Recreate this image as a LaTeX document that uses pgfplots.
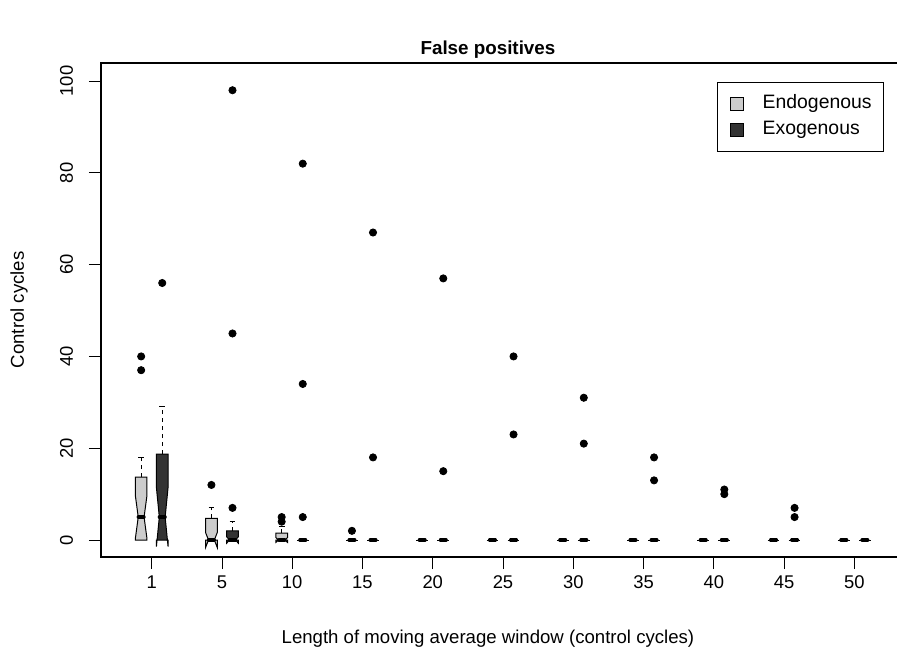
\documentclass[border=0pt]{standalone}
\usepackage{pgfplots}
\pgfplotsset{compat=1.18}
\usepackage{fontspec}
\setmainfont{Liberation Sans}
\definecolor{endo}{HTML}{CCCCCC}
\definecolor{exo}{HTML}{333333}
\begin{document}
\begin{tikzpicture}
\begin{axis}[name=ax, scale only axis, width=398pt, height=247.15pt,
  xmin=0.2784, xmax=11.608, ymin=-3.7, ymax=104,
  clip=false, axis line style={draw=none},
  tick align=outside, major tick length=6pt,
  tick style={black, line width=0.4pt},
  xtick={1,...,11}, xticklabels={1,5,10,15,20,25,30,35,40,45,50},
  ytick={0,20,...,100}, xtick pos=left, ytick pos=left,
  font=\fontsize{9.2}{11}\selectfont,
  /pgf/number format/assume math mode=true,
  xticklabel style={anchor=base, yshift=-9.5pt},
  yticklabel style={xshift=-8pt, rotate=90, anchor=base},
  legend entries={Endogenous,Exogenous},
  legend image code/.code={\draw[#1, line width=0.4pt] (0pt,-3.25pt) rectangle (6.5pt,3.25pt);},
  legend style={at={(rel axis cs:0.9837,0.961)}, anchor=north east, draw=black, line width=0.4pt,
    fill=white, inner xsep=6pt, inner ysep=6.5pt, row sep=4pt, font=\fontsize{9.7}{11.6}\selectfont,
    nodes={inner sep=0pt, text height=6.8pt, text depth=2pt},
    /tikz/every odd column/.append style={column sep=9.5pt}, cells={anchor=west}},
]
% notched boxes (legend images first)
\addplot[draw=black, fill=endo, line width=0.5pt] coordinates {(0.767,0)(0.933,0)(0.933,0.28)(0.8915,5)(0.933,9.72)(0.933,13.7)(0.767,13.7)(0.767,9.72)(0.8085,5)(0.767,0.28)} -- cycle;
\addplot[draw=black, fill=exo, line width=0.5pt] coordinates {(1.067,0)(1.233,0)(1.233,-1.45)(1.1915,5)(1.233,11.45)(1.233,18.7)(1.067,18.7)(1.067,11.45)(1.1085,5)(1.067,-1.45)} -- cycle;
\addplot[draw=black, fill=endo, line width=0.5pt] coordinates {(1.767,0)(1.933,0)(1.933,-1.62)(1.8915,0)(1.933,1.62)(1.933,4.7)(1.767,4.7)(1.767,1.62)(1.8085,0)(1.767,-1.62)} -- cycle;
\addplot[draw=black, fill=exo, line width=0.5pt] coordinates {(2.067,0)(2.233,0)(2.233,-0.69)(2.1915,0)(2.233,0.69)(2.233,2)(2.067,2)(2.067,0.69)(2.1085,0)(2.067,-0.69)} -- cycle;
\addplot[draw=black, fill=endo, line width=0.5pt] coordinates {(2.767,0)(2.933,0)(2.933,-0.52)(2.8915,0)(2.933,0.52)(2.933,1.5)(2.767,1.5)(2.767,0.52)(2.8085,0)(2.767,-0.52)} -- cycle;
% whiskers
\addplot[black, line width=0.5pt, dash pattern=on 2pt off 2pt, unbounded coords=jump] coordinates {(0.85,13.7)(0.85,18)(0.85,nan)(1.15,18.7)(1.15,29)(1.15,nan)(1.85,4.7)(1.85,7)(1.85,nan)(2.15,2)(2.15,4)(2.15,nan)(2.85,1.5)(2.85,3)};
% staples
\addplot[black, line width=0.5pt, unbounded coords=jump] coordinates {(0.8085,18)(0.8915,18)(0.85,nan)(1.1085,29)(1.1915,29)(1.15,nan)(1.8085,7)(1.8915,7)(1.85,nan)(2.1085,4)(2.1915,4)(2.15,nan)(2.8085,3)(2.8915,3)};
% collapsed boxes
\addplot[black, line width=0.5pt, unbounded coords=jump] coordinates {(3.067,0)(3.233,0)(3.15,nan)(3.767,0)(3.933,0)(3.85,nan)(4.067,0)(4.233,0)(4.15,nan)(4.767,0)(4.933,0)(4.85,nan)(5.067,0)(5.233,0)(5.15,nan)(5.767,0)(5.933,0)(5.85,nan)(6.067,0)(6.233,0)(6.15,nan)(6.767,0)(6.933,0)(6.85,nan)(7.067,0)(7.233,0)(7.15,nan)(7.767,0)(7.933,0)(7.85,nan)(8.067,0)(8.233,0)(8.15,nan)(8.767,0)(8.933,0)(8.85,nan)(9.067,0)(9.233,0)(9.15,nan)(9.767,0)(9.933,0)(9.85,nan)(10.067,0)(10.233,0)(10.15,nan)(10.767,0)(10.933,0)(10.85,nan)(11.067,0)(11.233,0)};
% medians
\addplot[black, line width=1.6pt, line cap=round, unbounded coords=jump] coordinates {(0.8085,5)(0.8915,5)(0.85,nan)(1.1085,5)(1.1915,5)(1.15,nan)(1.8085,0)(1.8915,0)(1.85,nan)(2.1085,0)(2.1915,0)(2.15,nan)(2.8085,0)(2.8915,0)(2.85,nan)(3.1085,0)(3.1915,0)(3.15,nan)(3.8085,0)(3.8915,0)(3.85,nan)(4.1085,0)(4.1915,0)(4.15,nan)(4.8085,0)(4.8915,0)(4.85,nan)(5.1085,0)(5.1915,0)(5.15,nan)(5.8085,0)(5.8915,0)(5.85,nan)(6.1085,0)(6.1915,0)(6.15,nan)(6.8085,0)(6.8915,0)(6.85,nan)(7.1085,0)(7.1915,0)(7.15,nan)(7.8085,0)(7.8915,0)(7.85,nan)(8.1085,0)(8.1915,0)(8.15,nan)(8.8085,0)(8.8915,0)(8.85,nan)(9.1085,0)(9.1915,0)(9.15,nan)(9.8085,0)(9.8915,0)(9.85,nan)(10.1085,0)(10.1915,0)(10.15,nan)(10.8085,0)(10.8915,0)(10.85,nan)(11.1085,0)(11.1915,0)};
% outliers
\addplot[only marks, mark=*, mark size=1.8pt, black] coordinates {(0.85,40)(0.85,37)(1.85,12)(2.85,4)(2.85,5)(3.85,2)};
\addplot[only marks, mark=*, mark size=1.8pt, black] coordinates {(1.15,56)(2.15,7)(2.15,45)(2.15,98)(3.15,5)(3.15,34)(3.15,82)(4.15,18)(4.15,67)(5.15,15)(5.15,57)(6.15,23)(6.15,40)(7.15,21)(7.15,31)(8.15,13)(8.15,18)(9.15,10)(9.15,11)(10.15,5)(10.15,7)};
\coordinate (tl) at (axis cs:5.786,104);
\coordinate (xl) at (axis cs:5.786,-3.7);
\end{axis}
\draw[line width=0.9pt] (ax.south east) -- (ax.south west) -- (ax.north west) -- (ax.north east);
\node[anchor=base, font=\bfseries\fontsize{9.4}{11}\selectfont] at ([yshift=4pt]tl) {False positives};
\node[anchor=base, font=\fontsize{9.3}{11}\selectfont] at ([yshift=-43pt]xl) {Length of moving average window (control cycles)};
\node[rotate=90, anchor=base, font=\fontsize{9.3}{11}\selectfont] at ([xshift=-38.5pt]ax.west) {Control cycles};
\pgfresetboundingbox
\path[use as bounding box] ([xshift=-50.5pt, yshift=-50pt]ax.south west) rectangle ([yshift=31.35pt]ax.north east);
\end{tikzpicture}
\end{document}
